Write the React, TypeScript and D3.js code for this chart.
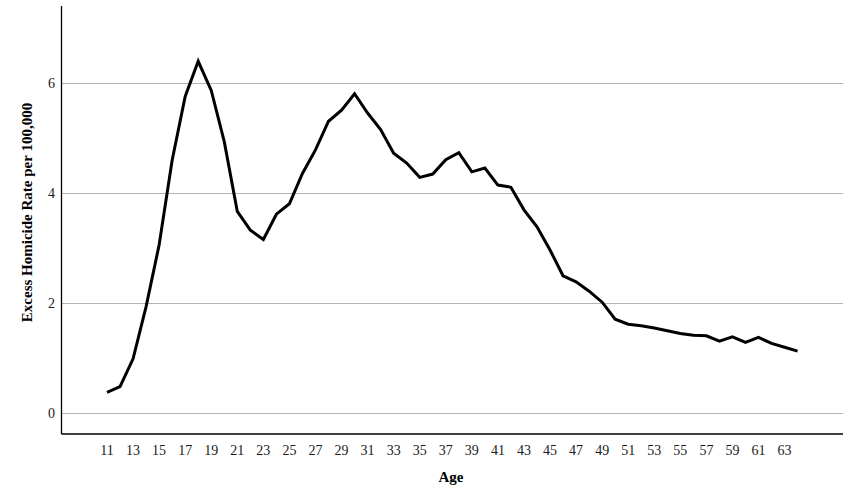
import React from "react";
import * as d3 from "d3";

const ages: number[] = [
  11, 12, 13, 14, 15, 16, 17, 18, 19, 20, 21, 22, 23, 24, 25, 26, 27, 28, 29, 30,
  31, 32, 33, 34, 35, 36, 37, 38, 39, 40, 41, 42, 43, 44, 45, 46, 47, 48, 49, 50,
  51, 52, 53, 54, 55, 56, 57, 58, 59, 60, 61, 62, 63, 64,
];
const rates: number[] = [
  0.38, 0.485, 0.99, 1.94, 3.06, 4.6, 5.76, 6.4, 5.87, 4.94, 3.67, 3.33, 3.16, 3.62,
  3.81, 4.36, 4.79, 5.31, 5.51, 5.81, 5.46, 5.16, 4.73, 4.55, 4.29, 4.35, 4.61, 4.74,
  4.39, 4.46, 4.15, 4.11, 3.7, 3.39, 2.97, 2.5, 2.39, 2.22, 2.02, 1.71, 1.62, 1.59,
  1.55, 1.5, 1.45, 1.42, 1.41, 1.31, 1.39, 1.29, 1.38, 1.27, 1.2, 1.13,
];
const xTickLabels: number[] = ages.filter((a) => a % 2 === 1);
const yTickLabels: number[] = [0, 2, 4, 6];
const xTitle = "Age";
const yTitle = "Excess Homicide Rate per 100,000";

export default function App() {
  const W = 853;
  const H = 503;
  const left = 61.5;
  const right = 843;
  const top = 6;
  const bottom = 434;

  const x = d3.scaleLinear().domain([11, 64]).range([107, 107 + 53 * 13.03]);
  const y = d3.scaleLinear().domain([0, 6]).range([413.3, 83.3]);

  const line = d3
    .line<number>()
    .x((_, i) => x(ages[i]))
    .y((d) => y(d));

  const font = "'Liberation Serif', 'Times New Roman', serif";

  return (
    <svg
      width={W}
      height={H}
      style={{ position: "absolute", left: 0, top: 0, background: "#fff" }}
      fontFamily={font}
    >
      <rect x={0} y={0} width={W} height={H} fill="#fff" />
      {yTickLabels.map((t) => (
        <g key={t}>
          <line
            x1={left}
            x2={right}
            y1={Math.round(y(t)) + 0.5}
            y2={Math.round(y(t)) + 0.5}
            stroke="#b4b4b4"
            strokeWidth={1}
          />
          <text
            x={55}
            y={y(t)}
            dy="0.35em"
            textAnchor="end"
            fontSize={14}
            fill="#1a1a1a"
          >
            {t}
          </text>
        </g>
      ))}
      <line x1={left} x2={left} y1={top} y2={bottom} stroke="#000" strokeWidth={1.3} />
      <line x1={left} x2={right} y1={bottom} y2={bottom} stroke="#000" strokeWidth={1.3} />
      {xTickLabels.map((a) => (
        <text
          key={a}
          x={x(a)}
          y={454.5}
          textAnchor="middle"
          fontSize={14}
          fill="#1a1a1a"
        >
          {a}
        </text>
      ))}
      <path
        d={line(rates) || ""}
        fill="none"
        stroke="#000"
        strokeWidth={3}
        strokeLinejoin="miter"
      />
      <text
        x={451}
        y={482}
        textAnchor="middle"
        fontSize={15}
        fontWeight="bold"
        fill="#000"
      >
        {xTitle}
      </text>
      <text
        transform={`translate(32, 212.5) rotate(-90)`}
        textAnchor="middle"
        fontSize={15}
        fontWeight="bold"
        fill="#000"
      >
        {yTitle}
      </text>
    </svg>
  );
}
